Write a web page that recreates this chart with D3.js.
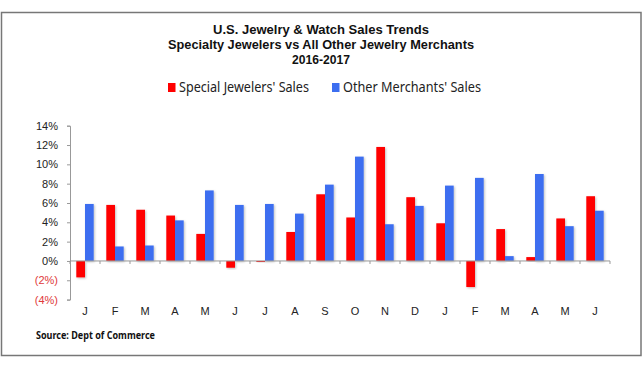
<!DOCTYPE html>
<html>
<head>
<meta charset="utf-8">
<script src="https://cdn.jsdelivr.net/npm/d3@7"></script>
<style>
  body { margin: 0; background: #fff; }
</style>
</head>
<body>
<div id="chart"></div>
<script>
// Months Jan 2016 - Jun 2017
const months = ["J", "F", "M", "A", "M", "J", "J", "A", "S", "O", "N", "D", "J", "F", "M", "A", "M", "J"];
// Year-over-year sales change, %
const specialSales = [-1.7, 5.8, 5.3, 4.7, 2.8, -0.7, -0.1, 3.0, 6.9, 4.5, 11.8, 6.6, 3.9, -2.7, 3.3, 0.4, 4.4, 6.7];
const otherSales = [5.9, 1.5, 1.6, 4.2, 7.3, 5.8, 5.9, 4.9, 7.9, 10.8, 3.8, 5.7, 7.8, 8.6, 0.5, 9.0, 3.6, 5.2];
const yTicks = [-4, -2, 0, 2, 4, 6, 8, 10, 12, 14];
const seriesNames = ["Special Jewelers' Sales", "Other Merchants' Sales"];
const colors = ["#ff0000", "#3c6ef0"];

const W = 643, H = 367;
const svg = d3.select("#chart").append("svg")
    .attr("width", W)
    .attr("height", H);

// Frame
svg.append("rect")
    .attr("x", 1.5).attr("y", 12.5)
    .attr("width", 639.5).attr("height", 343)
    .attr("fill", "#fff")
    .attr("stroke", "#777")
    .attr("stroke-width", 1.5);

// Title
const titleLines = [
    ["U.S. Jewelry & Watch Sales Trends", 34, 216],
    ["Specialty Jewelers vs All Other Jewelry Merchants", 49, 306],
    ["2016-2017", 64, 58]
];
svg.selectAll(".title")
    .data(titleLines)
    .enter().append("text")
    .attr("class", "title")
    .attr("x", 321)
    .attr("y", d => d[1])
    .attr("text-anchor", "middle")
    .attr("textLength", d => d[2])
    .attr("lengthAdjust", "spacingAndGlyphs")
    .style("font-family", "'Liberation Sans Narrow', 'Liberation Sans', Arial, sans-serif")
    .style("font-size", "13px")
    .style("font-weight", "bold")
    .style("fill", "#111")
    .text(d => d[0]);

// Legend
const legendX = [168, 332];
const legendLen = [130, 138];
const legend = svg.selectAll(".legend")
    .data(seriesNames)
    .enter().append("g")
    .attr("class", "legend")
    .attr("transform", (d, i) => `translate(${legendX[i]},0)`);
legend.append("rect")
    .attr("x", 0).attr("y", 83)
    .attr("width", 7.5).attr("height", 9)
    .attr("fill", (d, i) => colors[i]);
legend.append("text")
    .attr("x", 11)
    .attr("y", 92)
    .attr("textLength", (d, i) => legendLen[i])
    .attr("lengthAdjust", "spacingAndGlyphs")
    .style("font-family", "'Noto Sans', sans-serif")
    .style("font-size", "13.5px")
    .style("fill", "#222")
    .text(d => d);

// Scales
const x = d3.scaleBand()
    .domain(d3.range(months.length))
    .range([70, 610]);

const y = d3.scaleLinear()
    .domain([-4, 14])
    .range([299.6, 125.7]);

const barW = 8.7;

// Shadow for bars
const defs = svg.append("defs");
const shadow = defs.append("filter").attr("id", "shadow")
    .attr("x", "-30%").attr("y", "-10%").attr("width", "160%").attr("height", "130%");
shadow.append("feDropShadow")
    .attr("dx", 1).attr("dy", 1).attr("stdDeviation", 0.8)
    .attr("flood-color", "#000").attr("flood-opacity", 0.25);

// Bars
const seriesData = [specialSales, otherSales];
seriesData.forEach((vals, s) => {
    svg.append("g")
        .selectAll("rect")
        .data(vals)
        .enter().append("rect")
        .attr("x", (d, i) => x(i) + x.bandwidth() / 2 - barW + s * barW)
        .attr("y", d => y(Math.max(0, d)))
        .attr("width", barW)
        .attr("height", d => Math.abs(y(d) - y(0)))
        .attr("fill", colors[s])
        .attr("filter", "url(#shadow)");
});

// Y axis
const yAxis = svg.append("g")
    .attr("transform", "translate(70,0)")
    .call(d3.axisLeft(y)
        .tickValues(yTicks)
        .tickSize(3)
        .tickPadding(9)
        .tickFormat(d => d < 0 ? `(${-d}%)` : `${d}%`));
yAxis.select(".domain").attr("stroke", "#999");
yAxis.selectAll(".tick line").attr("stroke", "#999");
yAxis.selectAll("text")
    .style("font-family", "'Liberation Sans', Arial, sans-serif")
    .style("font-size", "11px")
    .attr("fill", d => d < 0 ? "#e03a3a" : "#222");

// X axis at zero line
const xAxis = svg.append("g")
    .attr("transform", `translate(0,${y(0)})`);
xAxis.append("line")
    .attr("x1", 70).attr("x2", 610)
    .attr("stroke", "#999");
xAxis.selectAll(".xtick")
    .data(d3.range(months.length + 1))
    .enter().append("line")
    .attr("class", "xtick")
    .attr("x1", i => 70 + i * x.step())
    .attr("x2", i => 70 + i * x.step())
    .attr("y1", 0).attr("y2", 3)
    .attr("stroke", "#999");

// Month labels
svg.selectAll(".month")
    .data(months)
    .enter().append("text")
    .attr("class", "month")
    .attr("x", (d, i) => x(i) + x.bandwidth() / 2)
    .attr("y", 315)
    .attr("text-anchor", "middle")
    .style("font-family", "'Liberation Sans', Arial, sans-serif")
    .style("font-size", "11px")
    .style("fill", "#222")
    .text(d => d);

// Source note
svg.append("text")
    .attr("x", 36)
    .attr("y", 339)
    .attr("textLength", 119)
    .attr("lengthAdjust", "spacingAndGlyphs")
    .style("font-family", "'Noto Sans', sans-serif")
    .style("font-size", "10.5px")
    .style("font-weight", "bold")
    .style("fill", "#111")
    .text("Source:  Dept of Commerce");
</script>
</body>
</html>
